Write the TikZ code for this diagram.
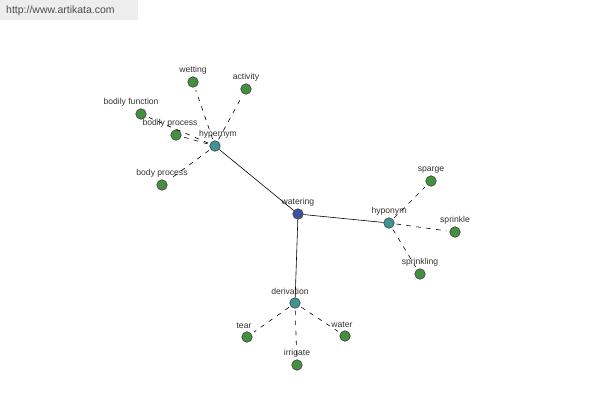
\documentclass[tikz,border=0pt]{standalone}
\usepackage{fontspec}
\setmainfont{Liberation Sans}
\definecolor{leafc}{HTML}{43903F}
\definecolor{hubc}{HTML}{409494}
\definecolor{rootc}{HTML}{4050A0}
\definecolor{txt}{HTML}{333333}
\begin{document}
\begin{tikzpicture}[x=1pt,y=-1pt,
  every label/.style={font=\fontsize{8.6}{10}\selectfont, text=txt, inner sep=1pt, label distance=1.2pt},
  dot/.style={circle, draw=black!75, line width=0.6pt, minimum size=10.5pt, inner sep=0pt},
  leaf/.style={dot, fill=leafc},
  hub/.style={dot, fill=hubc},
  root/.style={dot, fill=rootc},
  solidedge/.style={draw=black, line width=0.6pt},
  dashedge/.style={draw=black, line width=0.6pt, dash pattern=on 4.5pt off 5.5pt, shorten >=3pt, shorten <=2pt}]
\useasboundingbox (0,0) rectangle (600,400);
\fill[white] (0,0) rectangle (600,400);
\fill[black!7] (0,0) rectangle (138,20);
\node[anchor=west, font=\fontsize{10.5}{12}\selectfont, text=black!70, inner sep=0pt] (wm) at (6,10.5) {http://www.artikata.com};

\node[root, label=above:watering] (watering) at (298,214) {};
\node[hub, label={[xshift=3pt]above:hypernym}] (hypernym) at (215,146) {};
\node[hub, label=above:hyponym] (hyponym) at (389,223) {};
\node[hub, label={[xshift=-5pt]above:derivation}] (derivation) at (295,303) {};

\node[leaf, label=above:wetting] (wetting) at (193,82) {};
\node[leaf, label=above:activity] (activity) at (246,89) {};
\node[leaf, label={[xshift=-10pt]above:bodily function}] (bodilyfunction) at (141,114) {};
\node[leaf, label={[xshift=-6pt]above:bodily process}] (bodilyprocess) at (176,135) {};
\node[leaf, label=above:body process] (bodyprocess) at (162,185) {};

\node[leaf, label=above:sparge] (sparge) at (431,181) {};
\node[leaf, label=above:sprinkle] (sprinkle) at (455,232) {};
\node[leaf, label=above:sprinkling] (sprinkling) at (420,274) {};

\node[leaf, label={[xshift=-3pt]above:tear}] (tear) at (247,337) {};
\node[leaf, label=above:irrigate] (irrigate) at (297,365) {};
\node[leaf, label={[xshift=-3pt]above:water}] (water) at (345,336) {};

\path[solidedge] (watering) -- (hypernym);
\path[solidedge] (watering) -- (hyponym);
\path[solidedge] (watering) -- (derivation);

\foreach \l in {wetting,activity,bodilyfunction,bodilyprocess,bodyprocess}
  \path[dashedge] (hypernym) -- (\l);
\foreach \l in {sparge,sprinkle,sprinkling}
  \path[dashedge] (hyponym) -- (\l);
\foreach \l in {tear,irrigate,water}
  \path[dashedge] (derivation) -- (\l);
\end{tikzpicture}
\end{document}
